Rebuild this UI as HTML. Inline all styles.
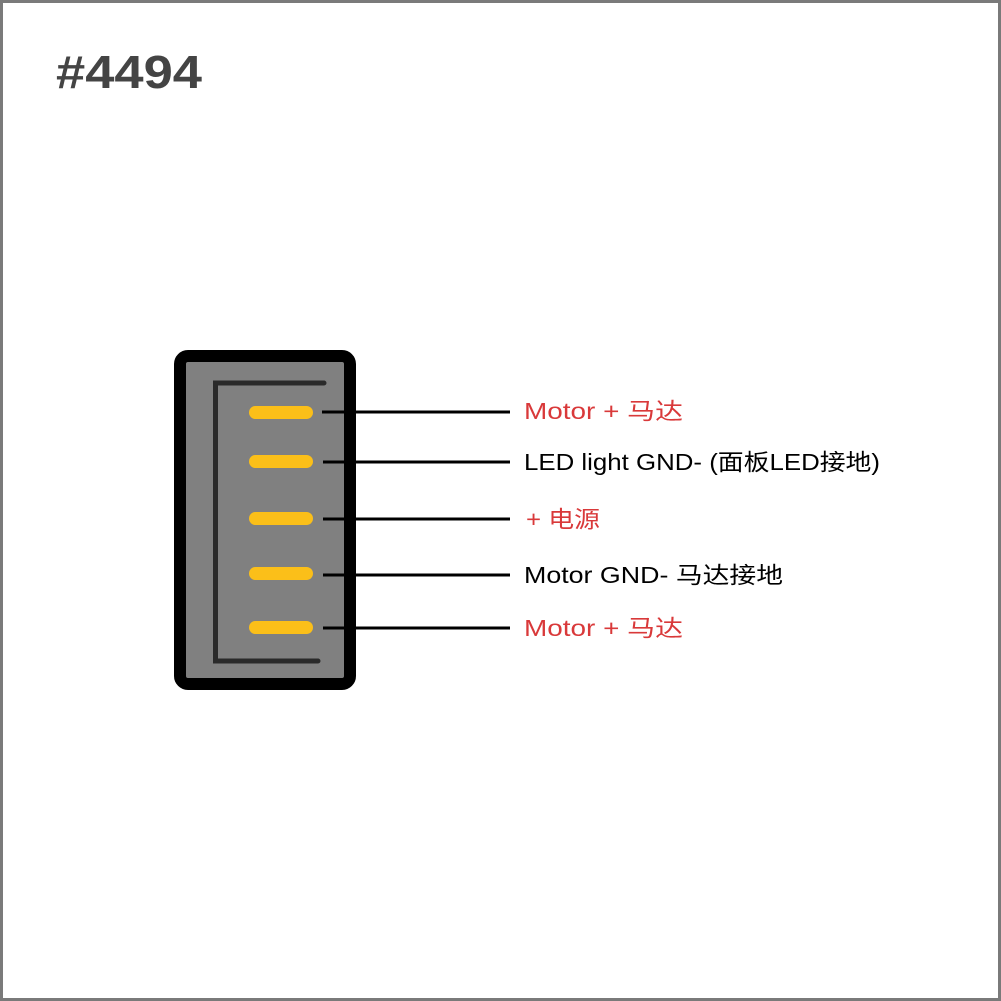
<!DOCTYPE html>
<html><head><meta charset="utf-8"><style>
html,body{margin:0;padding:0;background:#fff;}
svg{display:block;}
text{font-family:"Liberation Sans","Noto Sans CJK SC",sans-serif;}
</style></head><body>
<svg width="1001" height="1001" viewBox="0 0 1001 1001" xmlns="http://www.w3.org/2000/svg">
<rect x="1.5" y="1.5" width="998" height="998" fill="#fff" stroke="#7a7a7a" stroke-width="3"/>
<text x="56" y="88" font-size="46" font-weight="bold" fill="#444" textLength="146" lengthAdjust="spacingAndGlyphs">#4494</text>
<rect x="180" y="356" width="170" height="328" rx="8" fill="#808080" stroke="#000" stroke-width="12"/>
<path d="M324 383 H215.5 V661 H318" fill="none" stroke="#2a2a2a" stroke-width="5" stroke-linecap="round"/>
<g fill="#fbbf19">
<rect x="249" y="406" width="64" height="13" rx="6.5"/>
<rect x="249" y="455" width="64" height="13" rx="6.5"/>
<rect x="249" y="512" width="64" height="13" rx="6.5"/>
<rect x="249" y="567" width="64" height="13" rx="6.5"/>
<rect x="249" y="621" width="64" height="13" rx="6.5"/>
</g>
<g stroke="#000" stroke-width="3">
<line x1="322" y1="412" x2="510" y2="412"/>
<line x1="323" y1="462" x2="510" y2="462"/>
<line x1="323" y1="519" x2="510" y2="519"/>
<line x1="323" y1="575" x2="510" y2="575"/>
<line x1="323" y1="628" x2="510" y2="628"/>
</g>
<g font-size="23">
<text x="524" y="419" fill="#d9393a" textLength="159" lengthAdjust="spacingAndGlyphs">Motor + 马达</text>
<text x="524" y="470" fill="#000" textLength="356" lengthAdjust="spacingAndGlyphs">LED light GND-  (面板LED接地)</text>
<text x="526" y="527" fill="#d9393a" textLength="74" lengthAdjust="spacingAndGlyphs">+ 电源</text>
<text x="524" y="583" fill="#000" textLength="259" lengthAdjust="spacingAndGlyphs">Motor GND- 马达接地</text>
<text x="524" y="636" fill="#d9393a" textLength="159" lengthAdjust="spacingAndGlyphs">Motor + 马达</text>
</g>
</svg>
</body></html>
